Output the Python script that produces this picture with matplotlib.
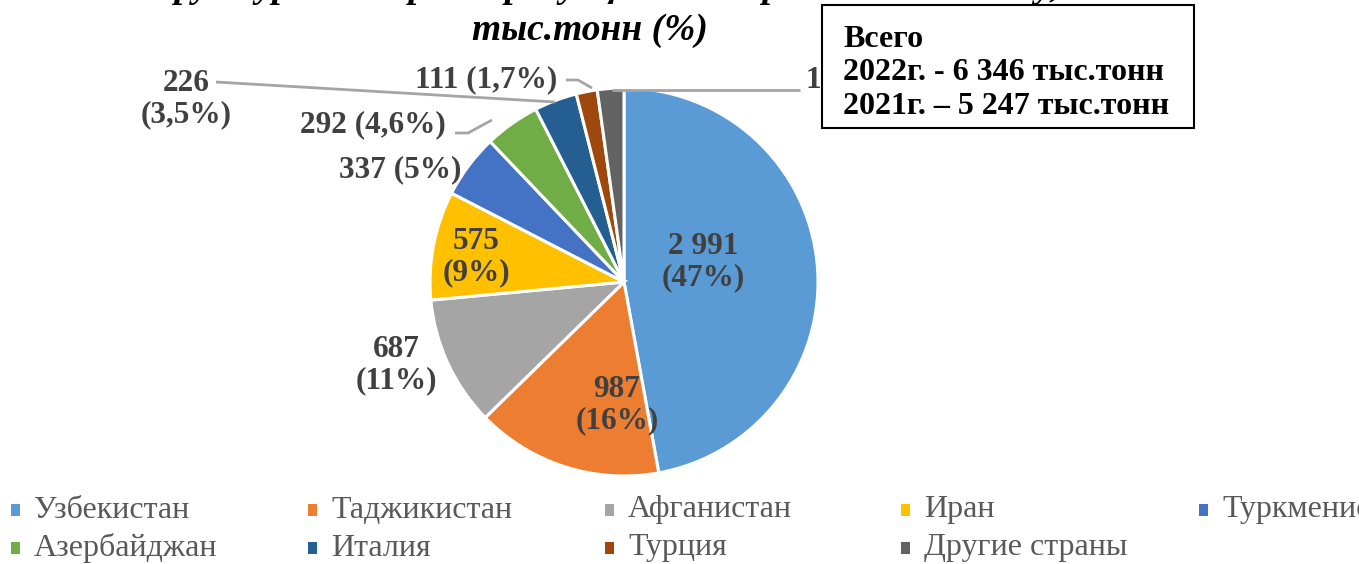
import matplotlib.pyplot as plt
from matplotlib.patches import Rectangle

# data (thousand tonnes, 2022)
countries = ["Узбекистан", "Таджикистан", "Афганистан", "Иран", "Туркменистан",
             "Азербайджан", "Италия", "Турция", "Другие страны"]
values = [2991, 987, 687, 575, 337, 292, 226, 111, 140]
labels = ["2 991\n(47%)", "987\n(16%)", "687\n(11%)", "575\n(9%)", "337 (5%)",
          "292 (4,6%)", "226\n(3,5%)", "111 (1,7%)", "140 (2,2%)"]
colors = ["#5B9BD5", "#ED7D31", "#A5A5A5", "#FFC000", "#4472C4",
          "#70AD47", "#255E91", "#9E480E", "#636363"]

W, H = 1359, 564
plt.rcParams['font.family'] = ['Liberation Serif', 'DejaVu Serif']

fig = plt.figure(figsize=(W / 100, H / 100), dpi=100)
ax = fig.add_axes([0, 0, 1, 1])

cx, cy, r = 624, 282, 194
ax.pie(values, colors=colors, startangle=90, counterclock=False,
       center=(cx, H - cy), radius=r,
       wedgeprops=dict(edgecolor="white", linewidth=2.2))
ax.set_xlim(0, W)
ax.set_ylim(0, H)
ax.set_aspect('auto')
ax.axis('off')

def py(y):
    return H - y

lab_col = "#404040"
lab_fs = 22.5
# label positions (pixels) and optional leader lines
lab_pos = [(703, 262, 'center'), (617, 405, 'center'), (396, 365, 'center'),
           (476, 257, 'center'), (400, 170, 'center'), (373, 125, 'center'),
           (186, 99, 'center'), (486, 80, 'center'), (806, 80, 'left')]
leaders = {5: [(455, 133), (468, 133), (492, 120)],
           6: [(216, 82), (555, 102)],
           7: [(566, 80), (578, 80), (592, 88)],
           8: [(612, 90), (800, 90)]}

for i, (x, y, ha) in enumerate(lab_pos):
    ax.text(x, py(y), labels[i], ha=ha, va='center', fontsize=lab_fs,
            fontweight='bold', color=lab_col, linespacing=1.1, zorder=3)
for i, pts in leaders.items():
    ax.plot([p[0] for p in pts], [py(p[1]) for p in pts], color="#A5A5A5",
            lw=2, zorder=2, solid_capstyle='butt')

# title (first line cut off at the top of the picture)
ax.text(590, py(-3), "Структура экспорта продукции по странам в 2022 году,",
        ha='center', va='baseline', fontsize=27, fontweight='bold',
        style='italic', color='black')
ax.text(590, py(31), "тыс.тонн (%)", ha='center', va='center', fontsize=27,
        fontweight='bold', style='italic', color='black')

# totals box
ax.add_patch(Rectangle((822, py(128)), 372, 123, facecolor='white',
                       edgecolor='black', lw=1.5, zorder=5))
ax.text(843, py(73), "Всего\n2022г. - 6 346 тыс.тонн\n2021г. – 5 247 тыс.тонн",
        ha='left', va='center', fontsize=23, fontweight='bold', color='black',
        linespacing=1.2, zorder=6)

# legend (two rows, equal column widths)
leg_x = [15, 312, 609, 905, 1203]
leg_y = [510, 548]
for i, name in enumerate(countries):
    row, col = divmod(i, 5)
    x, y = leg_x[col], leg_y[row]
    ax.add_patch(Rectangle((x - 4, py(y) - 6), 9, 12, facecolor=colors[i],
                           edgecolor='none'))
    ax.text(x + 19, py(y), name, ha='left', va='center', fontsize=23,
            color='#595959')

fig.savefig("out.png", dpi=100)
